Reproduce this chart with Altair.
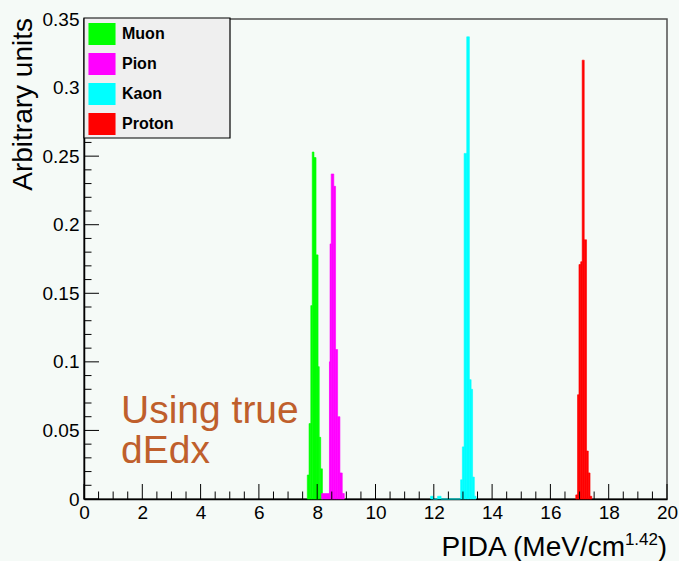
import altair as alt
import pandas as pd

# ---------------- data ----------------
particles = ["Muon", "Pion", "Kaon", "Proton"]
colors = ["#00ff00", "#ff00ff", "#00ffff", "#ff0000"]

muon_edges = [7.66, 7.72, 7.78, 7.83, 7.89, 7.96, 8.03, 8.07, 8.12, 8.18]
muon_vals = [0.0175, 0.055, 0.141, 0.253, 0.249, 0.178, 0.0965, 0.045, 0.022]

pion_edges = [8.15, 8.42, 8.44, 8.48, 8.57, 8.63, 8.70, 8.78, 8.86, 8.93]
pion_vals = [0.004, 0.100, 0.186, 0.237, 0.228, 0.109, 0.060, 0.019, 0.004]

kaon_edges = [11.89, 11.98, 12.13, 12.25, 12.92, 12.98, 13.04, 13.13, 13.22,
              13.28, 13.33, 13.39, 13.45]
kaon_vals = [0.002, 0.0, 0.002, 0.0, 0.014, 0.038, 0.252, 0.337, 0.087,
             0.080, 0.016, 0.002]

proton_edges = [16.87, 16.93, 16.98, 17.04, 17.09, 17.16, 17.24, 17.30, 17.36, 17.42]
proton_vals = [0.003, 0.076, 0.171, 0.173, 0.320, 0.189, 0.035, 0.019, 0.002]

x_major = [0, 2, 4, 6, 8, 10, 12, 14, 16, 18, 20]
x_minor = [0.5, 1, 1.5, 2.5, 3, 3.5, 4.5, 5, 5.5, 6.5, 7, 7.5, 8.5, 9, 9.5,
           10.5, 11, 11.5, 12.5, 13, 13.5, 14.5, 15, 15.5, 16.5, 17, 17.5,
           18.5, 19, 19.5]
y_major = [0, 0.05, 0.1, 0.15, 0.2, 0.25, 0.3, 0.35]
y_minor = [0.01, 0.02, 0.03, 0.04, 0.06, 0.07, 0.08, 0.09, 0.11, 0.12, 0.13,
           0.14, 0.16, 0.17, 0.18, 0.19, 0.21, 0.22, 0.23, 0.24, 0.26, 0.27,
           0.28, 0.29, 0.31, 0.32, 0.33, 0.34]

# ---------------- tables ----------------
rows = []
for name, edges, vals in [("Muon", muon_edges, muon_vals),
                          ("Pion", pion_edges, pion_vals),
                          ("Kaon", kaon_edges, kaon_vals),
                          ("Proton", proton_edges, proton_vals)]:
    for i, v in enumerate(vals):
        rows.append({"particle": name, "lo": edges[i], "hi": edges[i + 1], "val": v})
hist = pd.DataFrame(rows)

W, H = 583, 480
FONT = "Liberation Sans"
xscale = alt.Scale(domain=[0, 20], nice=False, zero=False)
yscale = alt.Scale(domain=[0, 0.35], nice=False)
xaxis = alt.Axis(values=x_major, ticks=False, grid=False, title=None,
                 labelFont=FONT, labelFontSize=19, labelColor="black",
                 labelPadding=4, domainColor="black", domainWidth=1.5,
                 labelFlush=False)
yaxis = alt.Axis(values=y_major, ticks=False, grid=False, title=None,
                 format="~g", labelFont=FONT, labelFontSize=19,
                 labelColor="black", labelPadding=5,
                 domainColor="black", domainWidth=1.5, labelFlush=False)
cscale = alt.Scale(domain=particles, range=colors)

bars = alt.Chart(hist).mark_rect(strokeWidth=0.6).encode(
    x=alt.X("lo:Q", scale=xscale, axis=xaxis),
    x2="hi:Q",
    y=alt.Y("val:Q", scale=yscale, axis=yaxis),
    y2=alt.datum(0),
    stroke=alt.Stroke("particle:N", scale=cscale, legend=None),
    color=alt.Color("particle:N", scale=cscale, sort=particles,
                    legend=alt.Legend(
                        orient="none", legendX=0, legendY=0, title=None,
                        symbolType="M-1.23,-1H1.23V1H-1.23Z", symbolSize=484,
                        symbolStrokeWidth=0, symbolOpacity=1, symbolOffset=3,
                        labelFont=FONT, labelFontWeight="bold",
                        labelFontSize=16, labelColor="black",
                        labelOffset=9, rowPadding=8, padding=4)),
)


def tick_layer(vals, axis_is_x, length):
    df = pd.DataFrame({"v": vals})
    base = alt.Chart(df).mark_rule(color="black", strokeWidth=1)
    if axis_is_x:
        return base.encode(x=alt.X("v:Q", scale=xscale, axis=xaxis),
                           y=alt.value(H), y2=alt.value(H - length))
    return base.encode(y=alt.Y("v:Q", scale=yscale, axis=yaxis),
                       x=alt.value(0), x2=alt.value(length))


ticks = [tick_layer(x_major, True, 15), tick_layer(x_minor, True, 7.5),
         tick_layer(y_major, False, 15), tick_layer(y_minor, False, 7.5)]

# legend box (drawn beneath the legend entries)
legend_box = alt.Chart(pd.DataFrame({"a": [0]})).mark_rect(
    fill="#efefef", stroke="black", strokeWidth=1.2,
).encode(x=alt.value(0), x2=alt.value(146), y=alt.value(-1), y2=alt.value(119))

note = alt.Chart(pd.DataFrame({"t": ["Using true\ndEdx"]})).mark_text(
    font=FONT, fontSize=39, color="#bf5f2c", align="left",
    baseline="alphabetic", lineBreak="\n", lineHeight=40,
).encode(x=alt.value(37), y=alt.value(404), text="t:N")

ytitle = alt.Chart(pd.DataFrame({"t": ["Arbitrary units"]})).mark_text(
    font=FONT, fontSize=28, color="black", align="right",
    baseline="alphabetic", angle=270,
).encode(x=alt.value(-52), y=alt.value(-1), text="t:N")

xt_main = alt.Chart(pd.DataFrame({"t": ["PIDA (MeV/cm"]})).mark_text(
    font=FONT, fontSize=28, color="black", align="right", baseline="alphabetic",
).encode(x=alt.value(541), y=alt.value(537), text="t:N")
xt_sup = alt.Chart(pd.DataFrame({"t": ["1.42"]})).mark_text(
    font=FONT, fontSize=17, color="black", align="right", baseline="alphabetic",
).encode(x=alt.value(574), y=alt.value(526), text="t:N")
xt_end = alt.Chart(pd.DataFrame({"t": [")"]})).mark_text(
    font=FONT, fontSize=28, color="black", align="right", baseline="alphabetic",
).encode(x=alt.value(583), y=alt.value(537), text="t:N")

chart = alt.layer(bars, *ticks, legend_box, note, ytitle, xt_main, xt_sup,
                  xt_end).properties(
    width=W, height=H,
    autosize=alt.AutoSizeParams(type="none"),
    padding={"left": 84, "top": 19, "right": 12, "bottom": 62},
    background="#f5faf7",
).configure_view(stroke="#505050", strokeWidth=1.5)

chart.save("out.html", embed_options={"renderer": "svg", "actions": False})
